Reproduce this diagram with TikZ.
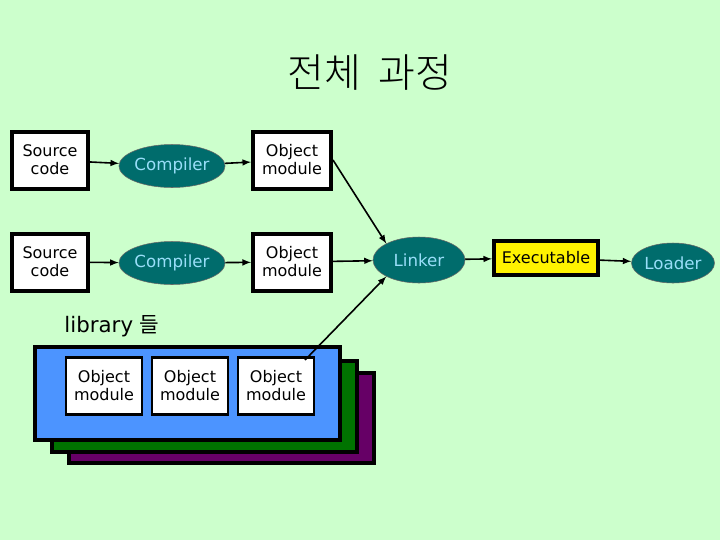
\documentclass[tikz,border=0pt]{standalone}
\usepackage{fontspec}
\setmainfont{DejaVu Sans}
\newfontfamily\cjk{Noto Sans CJK KR Light}
\newfontfamily\cjkr{Noto Sans CJK KR}
\begin{document}
\begin{tikzpicture}[x=0.75pt,y=-0.75pt,
  box/.style={draw=black,line width=3pt,fill=white,minimum width=76*0.75pt,minimum height=57*0.75pt,inner sep=1pt,align=center,font=\fontsize{12}{13.5}\selectfont},
  ell/.style={ellipse,draw=black!60,fill=teal!85!black,text=cyan!40!white,minimum width=101*0.75pt,minimum height=43*0.75pt,inner sep=0pt,font=\fontsize{12.5}{14}\selectfont},
  arr/.style={-latex,line width=1.2pt}]
\usetikzlibrary{shapes.geometric}
\fill[green!20!white] (0,0) rectangle (720,540);
\node[font=\cjk\fontsize{30}{33}\selectfont] (title) at (370,73) {전체\ \ 과정};
\node[box] (s1) at (50,160) {Source\\code};
\node[box] (s2) at (50,262) {Source\\code};
\node[ell] (c1) at (172,166) {Compiler};
\node[ell] (c2) at (172,263) {Compiler};
\node[box,minimum width=78*0.75pt] (o1) at (292,160) {Object\\module};
\node[box,minimum width=78*0.75pt] (o2) at (292,262) {Object\\module};
\node[ell,minimum width=92*0.75pt,minimum height=46*0.75pt] (lk) at (419,260) {Linker};
\node[box,fill=yellow,minimum width=104*0.75pt,minimum height=34*0.75pt] (ex) at (546,258) {Executable};
\node[ell,minimum width=83*0.75pt,minimum height=40*0.75pt] (ld) at (673,263) {Loader};
\node[font=\fontsize{16}{18}\selectfont] (lib) at (112,326) {library {\cjkr 들}};
\node[draw=black,line width=3pt,fill=violet!80!black,minimum width=305*0.75pt,minimum height=90*0.75pt] (r3) at (221,418) {};
\node[draw=black,line width=3pt,fill=green!45!black,minimum width=305*0.75pt,minimum height=91*0.75pt] (r2) at (204,406) {};
\node[draw=black,line width=3pt,fill=blue!60!cyan!70!white,minimum width=305*0.75pt,minimum height=93*0.75pt] (r1) at (187,393) {};
\node[box,line width=2pt] (l1) at (104,386) {Object\\module};
\node[box,line width=2pt] (l2) at (190,386) {Object\\module};
\node[box,line width=2pt] (l3) at (276,386) {Object\\module};
\draw[arr] (s1) -- (c1);
\draw[arr] (c1) -- (o1);
\draw[arr] (s2) -- (c2);
\draw[arr] (c2) -- (o2);
\draw[arr] (o1.east) -- (lk.north west);
\draw[arr] (o2) -- (lk);
\coordinate (lf) at (305,360);
\draw[arr] (lf) -- (lk.south west);
\draw[arr] (lk) -- (ex);
\draw[arr] (ex) -- (ld);
\end{tikzpicture}
\end{document}
